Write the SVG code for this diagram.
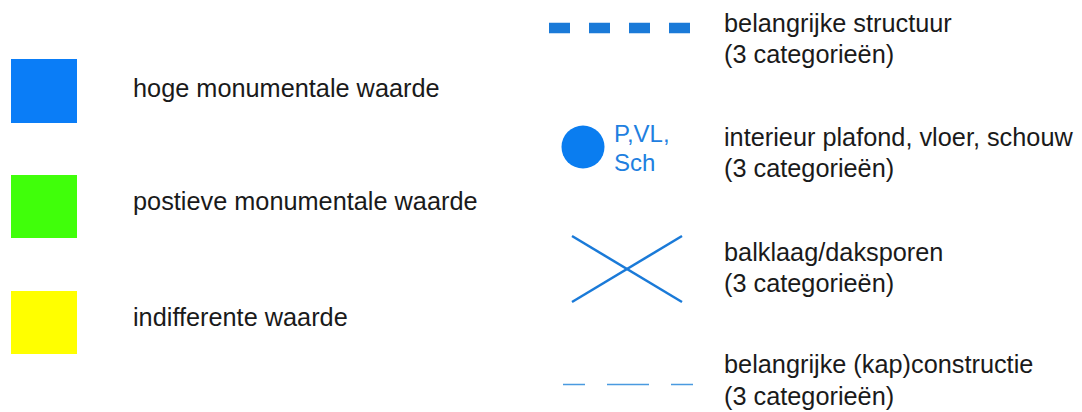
<svg xmlns="http://www.w3.org/2000/svg" width="1082" height="412" viewBox="0 0 1082 412">
<style>
.t{font-family:"Liberation Sans",Arial,sans-serif;font-size:25.3px;fill:#1a1a1a}
.b{font-family:"Liberation Sans",Arial,sans-serif;font-size:24px;fill:#1f80e0}
.sym{fill:none;stroke:#1a7ad8}
</style>
<rect width="1082" height="412" fill="#ffffff"/>
<g id="hoge">
<rect x="11" y="59" width="66" height="64" fill="#0a7df7"/>
<text class="t" x="133" y="97">hoge monumentale waarde</text>
</g>
<g id="postieve">
<rect x="11" y="175" width="66" height="63" fill="#40ff0a"/>
<text class="t" x="133" y="210">postieve monumentale waarde</text>
</g>
<g id="indifferente">
<rect x="11" y="291" width="66" height="63" fill="#ffff00"/>
<text class="t" x="133" y="326">indifferente waarde</text>
</g>
<g id="structuur">
<line class="sym" x1="549" y1="28" x2="690" y2="28" stroke="#0a7df0" stroke-width="10.5" stroke-dasharray="21 19"/>
<text class="t" x="724" y="31.5">belangrijke structuur</text>
<text class="t" x="724" y="63">(3 categorieën)</text>
</g>
<g id="interieur">
<circle cx="583" cy="147" r="21.5" fill="#0a7df0"/>
<text class="b" x="614" y="142">P,VL,</text>
<text class="b" x="614" y="171">Sch</text>
<text class="t" x="724" y="145.5">interieur plafond, vloer, schouw</text>
<text class="t" x="724" y="177">(3 categorieën)</text>
</g>
<g id="balklaag">
<line class="sym" x1="572" y1="236" x2="682" y2="302" stroke-width="2.5"/>
<line class="sym" x1="572" y1="302" x2="682" y2="236" stroke-width="2.5"/>
<text class="t" x="724" y="261">balklaag/daksporen</text>
<text class="t" x="724" y="292">(3 categorieën)</text>
</g>
<g id="constructie">
<line x1="563" y1="384.5" x2="693" y2="384.5" stroke="#4a9ae0" stroke-width="1.6" stroke-dasharray="22 22 42 22 22"/>
<text class="t" x="724" y="373">belangrijke (kap)constructie</text>
<text class="t" x="724" y="405">(3 categorieën)</text>
</g>
</svg>
